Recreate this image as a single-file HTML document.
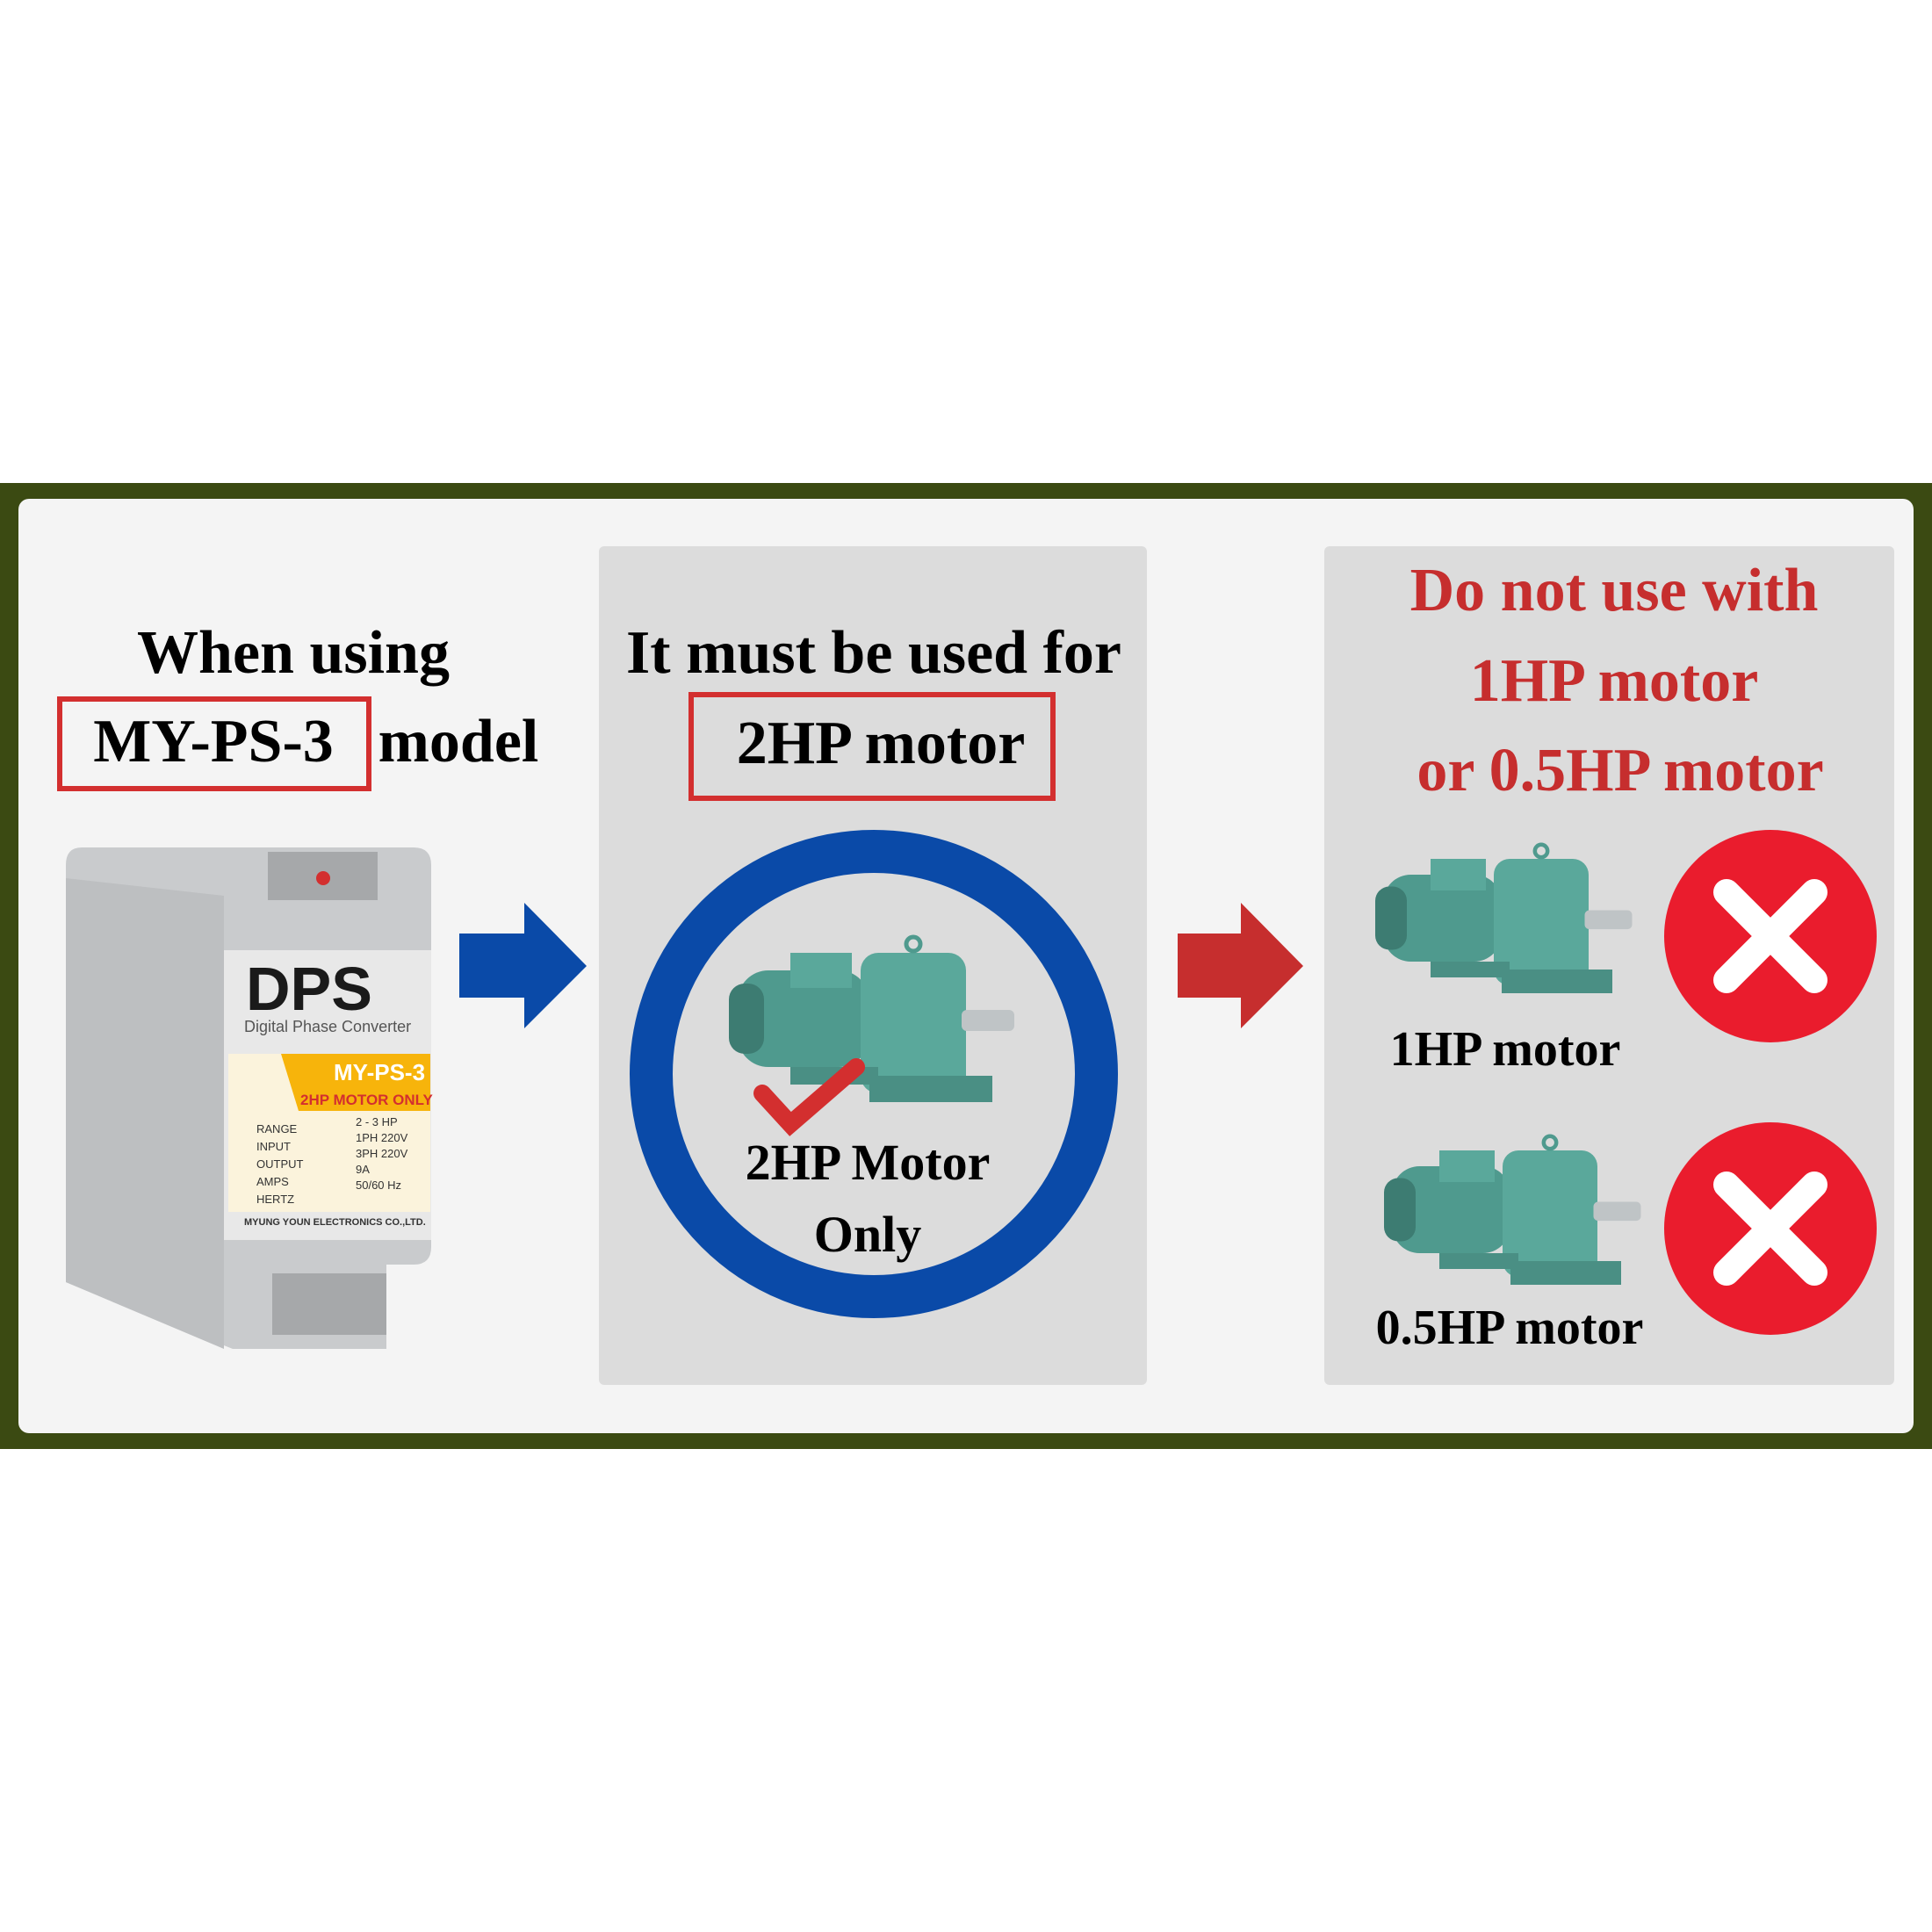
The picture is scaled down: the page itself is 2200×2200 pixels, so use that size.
<!DOCTYPE html>
<html><head><meta charset="utf-8"><style>
body{margin:0;width:2200px;height:2200px;background:#fff;position:relative;overflow:hidden;font-family:"Liberation Serif",serif}
.a{position:absolute}
.t{position:absolute;font-weight:bold;white-space:nowrap;transform:translate(-50%,-50%);line-height:1}
</style></head><body>
<div class="a" style="left:0;top:550px;width:2200px;height:1100px;background:#3b4a12"></div>
<div class="a" style="left:21px;top:568px;width:2158px;height:1064px;background:#f4f4f4;border-radius:12px"></div>
<div class="a" style="left:682px;top:622px;width:624px;height:955px;background:#dcdcdc;border-radius:6px"></div>
<div class="a" style="left:1508px;top:622px;width:649px;height:955px;background:#dcdcdc;border-radius:6px"></div>

<div class="t" style="left:334px;top:744px;font-size:70px">When using</div>
<div class="a" style="left:65px;top:793px;width:346px;height:96px;border:6px solid #d32f2f"></div>
<div class="t" style="left:243px;top:845px;font-size:70px">MY-PS-3</div>
<div class="t" style="left:522px;top:845px;font-size:70px">model</div>

<div class="t" style="left:995px;top:744px;font-size:70px">It must be used for</div>
<div class="a" style="left:784px;top:788px;width:406px;height:112px;border:6px solid #d32f2f"></div>
<div class="t" style="left:1003px;top:847px;font-size:70px">2HP motor</div>

<div class="a" style="left:717px;top:945px;width:458px;height:458px;border:49px solid #0a4aa8;border-radius:50%"></div>

<svg class="a" style="left:0;top:0" width="2200" height="2200">
<polygon points="523,1063 597,1063 597,1028 668,1100 597,1171 597,1136 523,1136" fill="#0a4aa8"/>
<polygon points="1341,1063 1413,1063 1413,1028 1484,1100 1413,1171 1413,1136 1341,1136" fill="#c62e2e"/>
<circle cx="2016" cy="1066" r="121" fill="#ea1c2d"/>
<path d="M1966 1016 L2066 1116 M2066 1016 L1966 1116" stroke="#fff" stroke-width="30" stroke-linecap="round"/>
<circle cx="2016" cy="1399" r="121" fill="#ea1c2d"/>
<path d="M1966 1349 L2066 1449 M2066 1349 L1966 1449" stroke="#fff" stroke-width="30" stroke-linecap="round"/>
<defs>
<g id="m">
<rect x="0" y="20" width="150" height="110" rx="35" fill="#4f9a8e"/>
<rect x="-10" y="35" width="40" height="80" rx="18" fill="#3d7c72"/>
<rect x="60" y="0" width="70" height="40" fill="#5aa89b"/>
<rect x="140" y="0" width="120" height="160" rx="20" fill="#5aa89b"/>
<rect x="150" y="140" width="140" height="30" fill="#4a8f84"/>
<rect x="60" y="130" width="100" height="20" fill="#4a8f84"/>
<rect x="255" y="65" width="60" height="24" rx="6" fill="#bfc4c6"/>
<circle cx="200" cy="-10" r="8" fill="none" stroke="#4f9a8e" stroke-width="5"/>
</g>
</defs>
<use href="#m" transform="translate(840,1085) scale(1)"/>
<use href="#m" transform="translate(1575,978) scale(0.9)"/>
<use href="#m" transform="translate(1585,1310) scale(0.9)"/>
<path d="M868 1245 L900 1280 L975 1215" stroke="#d32f2f" stroke-width="20" fill="none" stroke-linecap="round"/>
<!-- device -->
<path d="M93 965 L471 965 Q491 965 491 985 L491 1420 Q491 1440 471 1440 L440 1440 L440 1536 L265 1536 L75 1460 L75 985 Q75 965 93 965 Z" fill="#c9cbcd"/>
<path d="M75 1000 L255 1020 L255 1536 L75 1460 Z" fill="#bdbfc1"/>
<rect x="255" y="1082" width="236" height="330" fill="#e8e8e8"/>
<rect x="305" y="970" width="125" height="55" fill="#a6a8aa"/>
<circle cx="368" cy="1000" r="8" fill="#d32f2f"/>
<rect x="310" y="1450" width="130" height="70" fill="#a6a8aa"/>
<rect x="260" y="1200" width="230" height="180" fill="#fbf3dc"/>
<polygon points="320,1200 490,1200 490,1265 340,1265" fill="#f7b40b"/>
<text x="280" y="1150" font-family="Liberation Sans,sans-serif" font-weight="bold" font-size="70" fill="#1a1a1a">DPS</text>
<text x="278" y="1175" font-family="Liberation Sans,sans-serif" font-size="18" fill="#555">Digital Phase Converter</text>
<text x="380" y="1230" font-family="Liberation Sans,sans-serif" font-weight="bold" font-size="26" fill="#fff">MY-PS-3</text>
<text x="342" y="1258" font-family="Liberation Sans,sans-serif" font-weight="bold" font-size="17" fill="#d32f2f">2HP MOTOR ONLY</text>
<g font-family="Liberation Sans,sans-serif" font-size="13" fill="#333">
<text x="292" y="1290">RANGE</text><text x="405" y="1282">2 - 3 HP</text>
<text x="292" y="1310">INPUT</text><text x="405" y="1300">1PH 220V</text>
<text x="292" y="1330">OUTPUT</text><text x="405" y="1318">3PH 220V</text>
<text x="292" y="1350">AMPS</text><text x="405" y="1336">9A</text>
<text x="292" y="1370">HERTZ</text><text x="405" y="1354">50/60 Hz</text>
<text x="278" y="1395" font-weight="bold" font-size="11">MYUNG YOUN ELECTRONICS CO.,LTD.</text>
</g>
</svg>

<div class="t" style="left:988px;top:1324px;font-size:58px">2HP Motor</div>
<div class="t" style="left:988px;top:1406px;font-size:58px">Only</div>

<div class="t" style="left:1838px;top:673px;font-size:70px;color:#c62e2e">Do not use with</div>
<div class="t" style="left:1838px;top:776px;font-size:70px;color:#c62e2e">1HP motor</div>
<div class="t" style="left:1845px;top:878px;font-size:70px;color:#c62e2e">or 0.5HP motor</div>

<div class="t" style="left:1714px;top:1195px;font-size:56px">1HP motor</div>
<div class="t" style="left:1719px;top:1512px;font-size:56px">0.5HP motor</div>
</body></html>
